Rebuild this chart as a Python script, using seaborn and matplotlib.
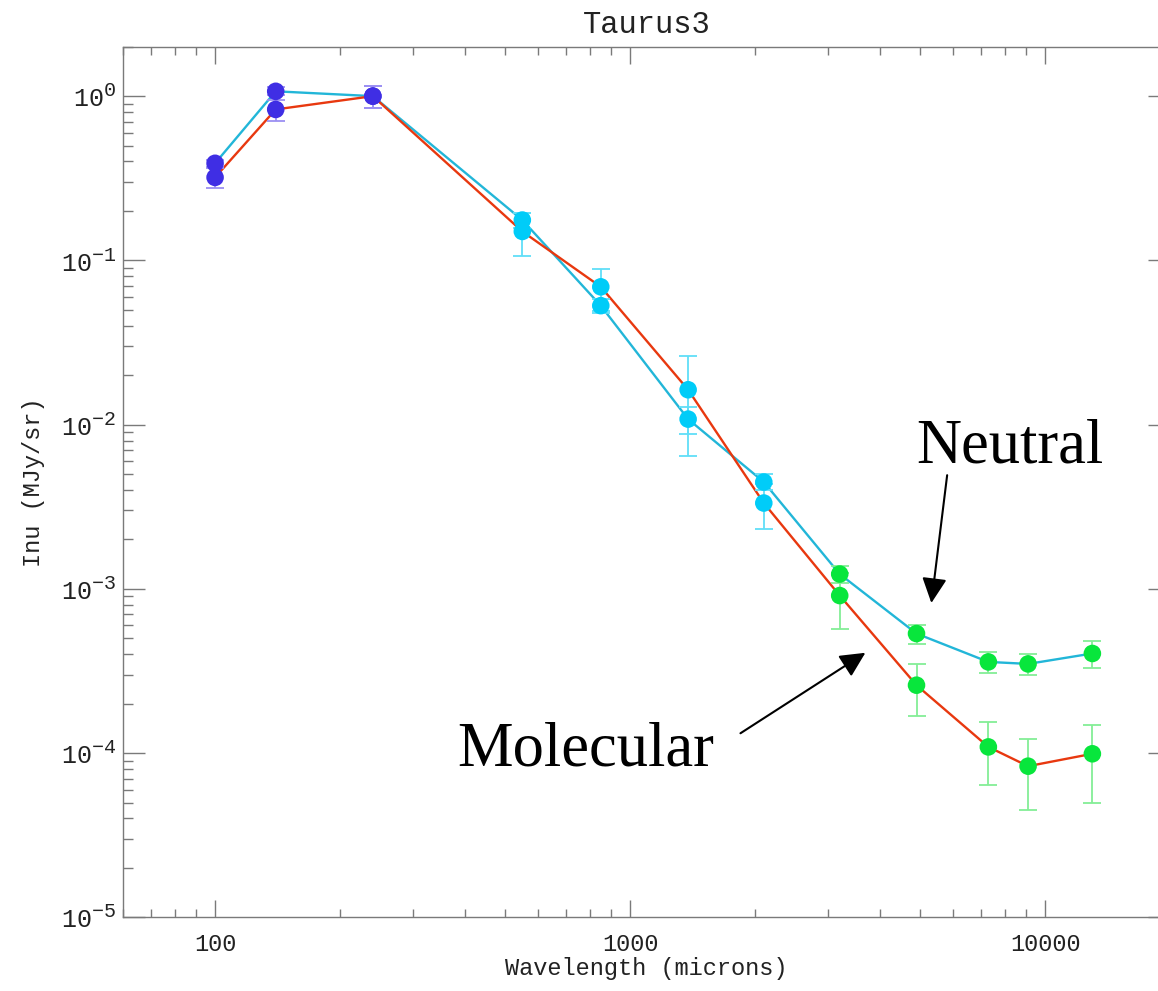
import numpy as np
import pandas as pd
import matplotlib
matplotlib.use("Agg")
import matplotlib.pyplot as plt
import matplotlib.ticker as mticker
import seaborn as sns

try:
    import matplotlib._mathtext as _mt
    _mt.SHRINK_FACTOR = 0.8
except Exception:
    pass

# ---------------- data ----------------
wavelength = [100, 140, 240, 550, 850, 1380, 2100, 3200, 4900, 7300, 9100, 13000]
instrument = ["DIRBE"] * 3 + ["Planck"] * 4 + ["WMAP"] * 5
neutral = [0.39, 1.07, 1.0, 0.176, 0.053, 0.0108, 0.00447, 0.00123, 0.000534,
           0.000359, 0.000349, 0.000404]
neutral_err = [0.019, 0.06, 0.15, 0.019, 0.005, 0.002, 0.0005, 0.00015, 0.00007,
               0.000053, 0.00005, 0.000075]
molecular = [0.32, 0.83, 1.0, 0.150, 0.069, 0.0163, 0.00333, 0.00091, 0.000259,
             0.000109, 0.0000832, 0.000099]
molecular_err = [0.046, 0.12, 0.15, 0.044, 0.0195, 0.0099, 0.001, 0.00034, 0.000092,
                 0.000045, 0.000038, 0.000049]
x_ticks = [100, 1000, 10000]
x_ticklabels = ["100", "1000", "10000"]
y_exponents = [0, -1, -2, -3, -4, -5]

title = "Taurus3"
xlabel = "Wavelength (microns)"
ylabel = "Inu (MJy/sr)"

# ---------------- styling ----------------
line_colors = {"Neutral": "#22B6D8", "Molecular": "#E8380F"}
point_colors = {"DIRBE": "#3F2EE4", "Planck": "#00CCF8", "WMAP": "#08E63C"}
err_colors = {"DIRBE": "#9C90F2", "Planck": "#60DEF8", "WMAP": "#84EE96"}

sns.set_theme(style="white")
plt.rcParams["font.family"] = ["Liberation Mono", "DejaVu Sans"]
plt.rcParams["mathtext.default"] = "regular"

df = pd.concat([
    pd.DataFrame({"wavelength": wavelength, "intensity": neutral, "err": neutral_err,
                  "region": "Neutral", "instrument": instrument}),
    pd.DataFrame({"wavelength": wavelength, "intensity": molecular, "err": molecular_err,
                  "region": "Molecular", "instrument": instrument}),
], ignore_index=True)

fig = plt.figure(figsize=(11.58, 9.91), dpi=100)
ax = fig.add_axes([0.10622, 0.07437, 0.90415, 0.87851])
ax.set_xscale("log")
ax.set_yscale("log")

sns.lineplot(data=df, x="wavelength", y="intensity", hue="region", palette=line_colors,
             sort=False, estimator=None, linewidth=1.7, legend=False, ax=ax, zorder=2)

for inst, g in df.groupby("instrument"):
    ax.errorbar(g["wavelength"], g["intensity"], yerr=g["err"], fmt="none",
                ecolor=err_colors[inst], elinewidth=1.3, capsize=6.5, capthick=1.3,
                zorder=3)

sns.scatterplot(data=df, x="wavelength", y="intensity", hue="instrument",
                palette=point_colors, s=160, linewidth=0, legend=False, ax=ax, zorder=4)

ax.set_xlim(60, 20000)
ax.set_ylim(1e-5, 2)

# ticks
ax.xaxis.set_major_locator(mticker.FixedLocator(x_ticks))
ax.xaxis.set_major_formatter(mticker.FixedFormatter(x_ticklabels))
ax.xaxis.set_minor_locator(mticker.LogLocator(base=10, subs=np.arange(2, 10)))
ax.xaxis.set_minor_formatter(mticker.NullFormatter())
y_ticks = [10.0 ** e for e in y_exponents]
ax.yaxis.set_major_locator(mticker.FixedLocator(y_ticks))
ax.yaxis.set_major_formatter(mticker.FixedFormatter(
    [r"$\mathregular{10^{%d}}$" % e for e in y_exponents]))
ax.yaxis.set_minor_locator(mticker.LogLocator(base=10, subs=np.arange(2, 10)))
ax.yaxis.set_minor_formatter(mticker.NullFormatter())

grey = "#7a7a7a"
ax.tick_params(axis="x", which="major", direction="in", length=12, width=1.0,
               color=grey, top=True, bottom=True, labelsize=17, pad=11, labelcolor="#222222")
ax.tick_params(axis="x", which="minor", direction="in", length=6, width=1.0,
               color=grey, top=True, bottom=True)
ax.tick_params(axis="y", which="major", direction="in", length=15.5, width=1.0,
               color=grey, left=True, right=True, labelsize=18, pad=5, labelcolor="#222222")
ax.tick_params(axis="y", which="minor", direction="in", length=7, width=1.0,
               color=grey, left=True, right=True)
for sp in ax.spines.values():
    sp.set_color(grey)
    sp.set_linewidth(1.0)

ax.set_title(title, fontsize=22, pad=10, color="#222222")
ax.set_xlabel(xlabel, fontsize=17, color="#222222")
ax.set_ylabel(ylabel, fontsize=17, color="#222222")
ax.xaxis.set_label_coords(0.5, -0.046)
ax.yaxis.set_label_coords(-0.0745, 0.5)

# annotations
fig.text(1010 / 1158, 1 - 462.3 / 991, "Neutral", ha="center", va="baseline",
         fontsize=45, family="Liberation Serif", color="black")
fig.text(585.5 / 1158, 1 - 766 / 991, "Molecular", ha="center", va="baseline",
         fontsize=45, family="Liberation Serif", color="black")
arrow_kw = dict(arrowstyle="-|>,head_length=0.85,head_width=0.42", color="black",
                lw=1.5, mutation_scale=18, shrinkA=0, shrinkB=0)
ax.annotate("", xy=(5321, 8.2e-4), xytext=(5808, 4.92e-3), arrowprops=arrow_kw, zorder=5)
ax.annotate("", xy=(3690, 4.08e-4), xytext=(1845, 1.32e-4), arrowprops=arrow_kw, zorder=5)

fig.savefig("out.png", dpi=100)
